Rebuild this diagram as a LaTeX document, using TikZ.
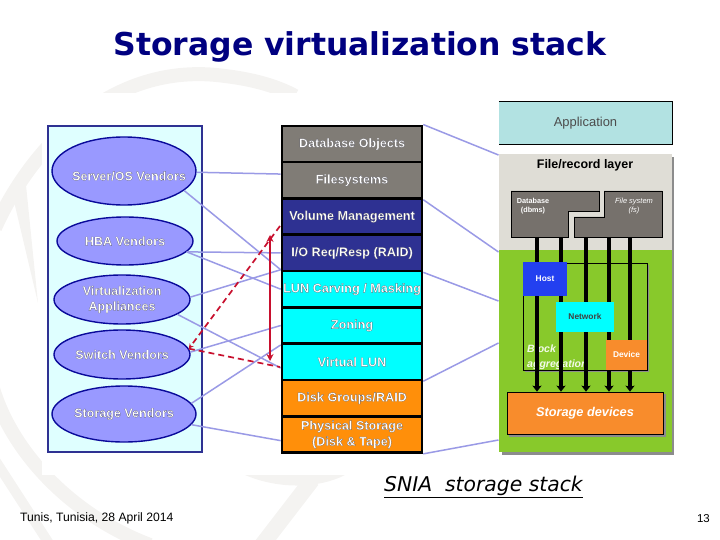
\documentclass[tikz,border=0pt]{standalone}
\usepackage{fontspec}
\setmainfont{Liberation Sans}
\newfontfamily\titlefont{DejaVu Sans}
\usetikzlibrary{arrows.meta, positioning, shapes.geometric, calc}
\definecolor{titlenavy}{HTML}{000080}
\definecolor{panelcyan}{HTML}{DFFFFF}
\definecolor{panelblue}{HTML}{2E3192}
\definecolor{vendorfill}{HTML}{9999FF}
\definecolor{vendoredge}{HTML}{0A0A9A}
\definecolor{linkblue}{HTML}{9A9AE6}
\definecolor{layergray}{HTML}{807C76}
\definecolor{layercyan}{HTML}{00FFFF}
\definecolor{layerorange}{HTML}{FF8F0A}
\definecolor{redlink}{HTML}{C8102E}
\definecolor{appcyan}{HTML}{B2E2E2}
\definecolor{filegray}{HTML}{DFDDD6}
\definecolor{blockgreen}{HTML}{88C92B}
\definecolor{dbgray}{HTML}{76716C}
\definecolor{hostblue}{HTML}{2340F0}
\definecolor{devorange}{HTML}{F88C2C}
\definecolor{markgray}{HTML}{F4F3F1}
\newcommand{\halo}[1]{\special{pdf:code 2 Tr 0.16 w 0.3 0.3 0.35 RG}#1\special{pdf:code 0 Tr}}
\begin{document}
\begin{tikzpicture}[
  x=1bp, y=-1bp,
  logoband/.style={line width=14bp, markgray},
  vendor/.style={
    ellipse, draw=vendoredge, line width=1.4bp, fill=vendorfill, inner xsep=-40bp, inner ysep=-5bp,
    font=\bfseries\fontsize{12.6}{15.5}\selectfont, text=white, align=center},
  layerbox/.style={
    rectangle, draw=black, line width=2.6bp, inner sep=0pt, minimum width=140bp,
    minimum height=36.3bp, align=center, text=white,
    font=\bfseries\fontsize{12.7}{16}\selectfont},
  link/.style={line width=1.5bp, linkblue},
  redash/.style={line width=1.7bp, redlink, dash pattern=on 6bp off 4bp},
  redarrow/.style={{Stealth[length=7bp,width=7bp]}-{Stealth[length=7bp,width=7bp]}, line width=1.7bp, redlink},
  smallbox/.style={rectangle, inner sep=0pt, font=\bfseries\fontsize{8.4}{10}\selectfont},
  flow/.style={-{Stealth[length=6bp,width=9bp,inset=1bp]}, line width=4.6bp, black},
  dbshape/.style={fill=dbgray, draw=black, line width=0.5bp},
  boxshadow/.style={fill=black!45},
]
  \useasboundingbox (0,0) rectangle (720,540);

  %% Watermark
  \draw[logoband] (-5,228) .. controls (30,150) and (110,60) .. (225,76) .. controls (250,79) and (275,85) .. (295,96);
  \draw[logoband] (-8,385) .. controls (10,450) and (70,515) .. (150,545);
  \draw[logoband, line width=10bp] (-5,460) -- (50,545);
  \fill[markgray] (12,193) -- (26,185) -- (38,303) -- cycle;
  \draw[logoband, line width=16bp] (312,480) -- (262,545);
  \fill[markgray] (245,475) -- (345,475) .. controls (320,488) and (280,490) .. cycle;
  \fill[white] (42,93) rectangle (720,475);

  %% Title and footer
  \node[font=\titlefont\bfseries\fontsize{31.6}{36}\selectfont, text=titlenavy] (title) at (360,47)
    {Storage virtualization stack};
  \node[font=\titlefont\itshape\fontsize{20.4}{24}\selectfont, anchor=west, inner sep=0pt] (caption) at (384,487)
    {\underline{SNIA\ \ storage stack}};
  \node[font=\fontsize{12.2}{14}\selectfont, anchor=west, inner sep=0pt] (place) at (20,518)
    {Tunis, Tunisia, 28 April 2014};
  \node[font=\fontsize{11.5}{14}\selectfont, anchor=east, inner sep=0pt] (pageno) at (710,519) {13};

  %% Vendor panel
  \node[rectangle, draw=panelblue, fill=panelcyan, line width=2.6bp, minimum width=154bp,
    minimum height=326bp, inner sep=0pt] (vendors) at (125,289) {};
  \foreach \n/\cx/\cy/\ew/\eh/\lbl in {
    srv/124/171/144/68/{\rule{0pt}{19bp}\hspace*{10bp}Server/OS Vendors},
    hba/125/241/136/48/{HBA Vendors},
    virt/122/299.5/136/49/{Virtualization\\Appliances},
    sw/122/354.5/136/49/{Switch Vendors},
    stor/124/414/144/56/{Storage Vendors}} {
    \node[vendor, minimum width=\ew bp, minimum height=\eh bp] (\n) at (\cx,\cy) {\halo{\lbl}};
  }

  %% Layer stack
  \foreach \n/\cy/\col/\lbl in {
    dbo/144/layergray/{Database Objects},
    fsy/180.3/layergray/{Filesystems},
    vol/216.6/panelblue/{Volume Management},
    ioq/252.9/panelblue/{I/O Req/Resp (RAID)},
    lun/289.2/layercyan/{LUN Carving / Masking},
    zon/325.5/layercyan/{Zoning},
    vlu/361.8/layercyan/{Virtual LUN},
    dgr/398.1/layerorange/{Disk Groups/RAID},
    phy/434.4/layerorange/{Physical Storage\\(Disk \& Tape)}} {
    \node[layerbox, fill=\col] (\n) at (352,\cy) {\halo{\lbl}};
  }

  %% Right panel
  \fill[boxshadow] (502,157) rectangle (674,455);
  \node[rectangle, fill=appcyan, inner sep=0pt, minimum width=173bp, minimum height=42bp,
    font=\fontsize{13}{15}\selectfont, text=black!70] (app) at (585.5,123) {Application};
  \draw[line width=0.7bp] (app.north west) -- (app.north east) -- (app.south east) -- (app.south west);
  \node[rectangle, fill=filegray, inner sep=0pt, minimum width=173bp, minimum height=96bp] (filelayer) at (585.5,202) {};
  \node[font=\bfseries\fontsize{12.5}{14}\selectfont, inner sep=0pt] (filetitle) at (585,165.5) {File/record layer};
  \node[rectangle, fill=blockgreen, inner sep=0pt, minimum width=173bp, minimum height=202bp] (blocklayer) at (585.5,351) {};

  \draw[dbshape] (511,191) -- (599,191) -- (599,211) -- (568,211) -- (568,237) -- (511,237) -- cycle;
  \draw[dbshape] (604,191) -- (662,191) -- (662,237) -- (574,237) -- (574,217) -- (604,217) -- cycle;
  \node[font=\bfseries\fontsize{7.3}{9}\selectfont, text=white, align=center, inner sep=0pt] (dbms) at (533,206) {Database\\(dbms)};
  \node[font=\itshape\fontsize{7.5}{9}\selectfont, text=white, align=center, inner sep=0pt] (fsys) at (634,206) {File system\\(fs)};

  % aggregation box, text stays under the arrows
  \fill[boxshadow] (525,265) rectangle (649,372);
  \node[rectangle, draw=black, line width=0.6bp, fill=blockgreen, inner sep=0pt, minimum width=124bp,
    minimum height=107bp] (aggr) at (585,316.5) {};
  \node[font=\bfseries\itshape\fontsize{10.6}{15}\selectfont, text=white!90!blockgreen, align=left, anchor=south west, inner sep=0pt] (aggrtext) at (527,370)
    {Block\\aggregation};

  \fill[boxshadow] (509,394) rectangle (666,437);
  \node[rectangle, draw=black, line width=0.6bp, fill=devorange, inner sep=0pt, minimum width=156bp,
    minimum height=42bp, text=white, font=\bfseries\itshape\fontsize{12.8}{15}\selectfont] (store) at (585,413) {Storage devices};

  \foreach \n/\x in {a/537, b/561, c/586, d/609, e/630} {
    \coordinate (top\n) at (\x,237);
    \draw[flow] (top\n) -- (top\n |- store.north);
  }

  \node[smallbox, fill=hostblue, text=white, minimum width=44bp, minimum height=34bp] (host) at (545,279) {Host};
  \node[smallbox, fill=layercyan, text=black!75, minimum width=58bp, minimum height=30bp] (net) at (585,317) {Network};
  \node[smallbox, fill=devorange, text=white, minimum width=41bp, minimum height=30bp] (dev) at (626.5,355) {Device};

  %% Links, left side
  \draw[link] (srv.-1) -- (fsy.175);
  \draw[link] (srv.-18) -- (lun.north west);
  \draw[link] (hba.-10) -- (ioq.west);
  \draw[link] (hba.-10) -- (lun.west);
  \draw[link] (virt.2) -- (lun.north west);
  \draw[link] (virt.-15) -- (vlu.185);
  \draw[link] (sw.2) -- (zon.west);
  \draw[link] (stor.9) -- (zon.south west);
  \draw[link] (stor.-9) -- (phy.185);

  %% Links, right side
  \foreach \from/\yy in {dbo.north east/155, fsy.south east/252, ioq.south east/301, vlu.south east/343, phy.south east/440} {
    \coordinate (end\yy) at (498.5,\yy);
    \draw[link] (\from) -- (end\yy);
  }

  %% Red marks
  \coordinate (volend) at (280,226);
  \coordinate (lunend) at (280,367);
  \draw[redash, -{Stealth[length=5bp,width=5bp]}] (volend) -- (sw.5);
  \draw[redash] (sw.5) -- (lunend);
  \coordinate (redtop) at (270,235);
  \coordinate (redbot) at (270,361);
  \draw[redarrow] (redtop) -- (redbot);
\end{tikzpicture}
\end{document}
